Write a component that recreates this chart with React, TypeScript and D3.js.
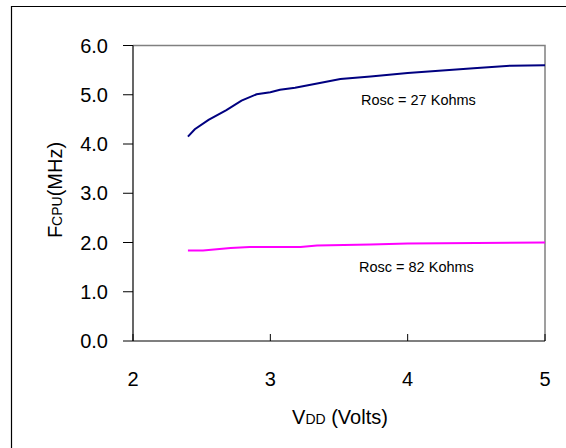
import React from "react";
import * as d3 from "d3";

const xTicks = [2, 3, 4, 5];
const yTicks = [0, 1, 2, 3, 4, 5, 6];

const vdd27 = [2.4, 2.45, 2.55, 2.68, 2.79, 2.9, 3.0, 3.07, 3.18, 3.36, 3.51, 3.73, 4.0, 4.48, 4.75, 5.0];
const f27 = [4.15, 4.3, 4.49, 4.69, 4.88, 5.01, 5.05, 5.1, 5.14, 5.24, 5.32, 5.37, 5.44, 5.54, 5.59, 5.6];

const vdd82 = [2.4, 2.51, 2.71, 2.85, 3.22, 3.34, 3.73, 4.0, 5.0];
const f82 = [1.84, 1.84, 1.89, 1.91, 1.91, 1.94, 1.96, 1.98, 2.0];

const label27 = "Rosc = 27 Kohms";
const label82 = "Rosc = 82 Kohms";

const W = 566;
const H = 448;
const left = 133;
const right = 545;
const top = 45.5;
const bottom = 341;

export default function App() {
  const x = d3.scaleLinear().domain([2, 5]).range([left, right]);
  const y = d3.scaleLinear().domain([0, 6]).range([bottom, top]);
  const line = d3
    .line<[number, number]>()
    .x((d) => x(d[0]))
    .y((d) => y(d[1]));
  const d27 = line(vdd27.map((v, i) => [v, f27[i]] as [number, number])) || "";
  const d82 = line(vdd82.map((v, i) => [v, f82[i]] as [number, number])) || "";
  const font = "'Liberation Sans', Arial, sans-serif";

  return (
    <svg
      width={W}
      height={H}
      style={{ position: "absolute", left: 0, top: 0, background: "#fff" }}
      fontFamily={font}
    >
      <rect x={0} y={0} width={W} height={H} fill="#fff" />
      {/* outer frame */}
      <path d={`M11.5,${H + 2}V6.5H${W + 2}`} fill="none" stroke="#000" strokeWidth={1.2} />
      {/* plot border (grey top/right) */}
      <path d={`M${left},${top}H${right}V${bottom}`} fill="none" stroke="#808080" strokeWidth={1.5} />
      {/* y axis */}
      <line x1={left} x2={left} y1={top} y2={bottom} stroke="#000" strokeWidth={1.2} />
      {yTicks.map((t) => (
        <g key={"y" + t}>
          <line x1={left - 10} x2={left} y1={y(t)} y2={y(t)} stroke="#000" strokeWidth={1} />
          <text x={108} y={y(t)} dy="0.36em" textAnchor="end" fontSize={20} fill="#000">
            {t.toFixed(1)}
          </text>
        </g>
      ))}
      {/* x axis */}
      <line x1={left} x2={right} y1={bottom} y2={bottom} stroke="#000" strokeWidth={1.2} />
      {xTicks.map((t) => (
        <g key={"x" + t}>
          <line x1={x(t)} x2={x(t)} y1={bottom} y2={bottom - 7} stroke="#000" strokeWidth={1} />
          <text x={x(t)} y={386} textAnchor="middle" fontSize={20} fill="#000">
            {t}
          </text>
        </g>
      ))}
      {/* series */}
      <path d={d27} fill="none" stroke="#000080" strokeWidth={2} />
      <path d={d82} fill="none" stroke="#FF00FF" strokeWidth={2} />
      <text x={361} y={105} fontSize={14.5} fill="#000">{label27}</text>
      <text x={359} y={271.5} fontSize={14.5} fill="#000">{label82}</text>
      {/* axis titles */}
      <text x={340} y={424} textAnchor="middle" fill="#000" fontSize={20}>
        <tspan>V</tspan>
        <tspan fontSize={14}>DD</tspan>
        <tspan> (Volts)</tspan>
      </text>
      <text
        transform={`translate(62,190) rotate(-90)`}
        textAnchor="middle"
        fill="#000"
        fontSize={20}
      >
        <tspan>F</tspan>
        <tspan fontSize={14}>CPU</tspan>
        <tspan>(MHz)</tspan>
      </text>
    </svg>
  );
}
